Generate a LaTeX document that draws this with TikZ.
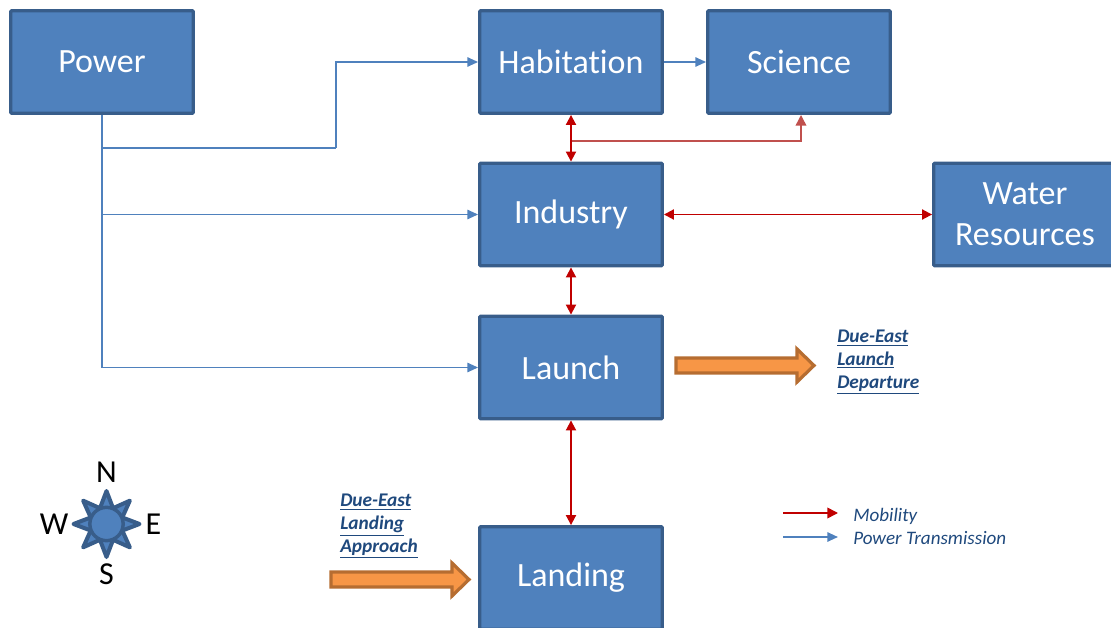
\documentclass[tikz,border=0pt]{standalone}
\usepackage{fontspec}
\setmainfont[Ligatures=NoCommon]{Carlito}
\usetikzlibrary{arrows.meta}
\definecolor{boxfill}{HTML}{4F81BD}
\definecolor{boxline}{HTML}{385D8A}
\definecolor{mobred}{HTML}{C00000}
\definecolor{softred}{HTML}{C0504D}
\definecolor{orfill}{HTML}{F79646}
\definecolor{orline}{HTML}{B66D31}
\definecolor{labelblue}{HTML}{1F497D}
\tikzset{
  x=0.75pt,y=-0.75pt,
  block/.style={draw=boxline,fill=boxfill,line width=2.4pt,rounded corners=0.8pt,minimum width=137pt,minimum height=77pt,inner sep=0pt,align=center,text=white,font=\fontsize{25.5}{31}\selectfont},
  powerline/.style={draw=boxfill,line width=1.2pt,-{Triangle[length=8pt,width=7pt]}},
  plainpower/.style={draw=boxfill,line width=1.2pt},
  mobility/.style={draw=mobred,line width=1.4pt,{Triangle[length=7.5pt,width=7.5pt]}-{Triangle[length=7.5pt,width=7.5pt]}},
  softmob/.style={draw=softred,line width=1.1pt,-{Triangle[length=8pt,width=8pt]}},
  bigarrow/.style={draw=orline,fill=orfill,line width=2.4pt,miter limit=10},
  notelabel/.style={align=left,inner sep=0pt,anchor=north west,text=labelblue,font=\fontsize{14.5}{17.2}\selectfont\bfseries\itshape},
  legendlabel/.style={inner sep=0pt,anchor=west,text=labelblue,font=\fontsize{14.3}{16}\selectfont\itshape},
  compasspoint/.style={draw=boxline,fill=boxfill,line width=3pt,line join=round},
  compassletter/.style={inner sep=0pt,text=black,font=\fontsize{24}{26}\selectfont},
}
\begin{document}
\begin{tikzpicture}
\useasboundingbox (0,0) rectangle (1111,628);
\clip (0,0) rectangle (1111,628);
% blocks (text sits a little below the box centre, hence the text raise)
\newcommand{\lowered}[1]{\raisebox{-1.5pt}{#1}}
\node[block] (power) at (102,62) {\lowered{Power}};
\node[block] (habitation) at (571,62) {\lowered{Habitation}};
\node[block] (science) at (799,62) {\lowered{Science}};
\node[block] (industry) at (571,214.5) {\lowered{Industry}};
\node[block] (water) at (1025,214.5) {\lowered{Water}\\\lowered{Resources}};
\node[block] (launch) at (571,367.5) {\lowered{Launch}};
\node[block] (landing) at (571,578) {\lowered{Landing}};
% power lines
\coordinate (branchA) at (102,148);
\coordinate (bendA) at (336,148);
\coordinate (branchB) at (102,214.5);
\draw[powerline] (power.south) |- (launch.west);
\draw[plainpower] (branchA) -- (bendA);
\draw[powerline] (bendA) |- (habitation.west);
\draw[powerline] (branchB) -- (industry.west);
\draw[powerline] (habitation.east) -- (science.west);
% mobility lines
\coordinate (branchC) at (571,141);
\coordinate (scienceEnd) at (801,115);
\draw[softmob] (branchC) -| (scienceEnd);
\draw[mobility] (habitation.south) -- (industry.north);
\draw[mobility] (industry.east) -- (water.west);
\draw[mobility] (industry.south) -- (launch.north);
\draw[mobility] (launch.south) -- (landing.north);
% big orange arrows
\draw[bigarrow] (676,358) -- (797,358) -- (797,349) -- (814,365.5) -- (797,382) -- (797,373) -- (676,373) -- cycle;
\draw[bigarrow] (331,572) -- (452,572) -- (452,563) -- (469,579.5) -- (452,596) -- (452,587) -- (331,587) -- cycle;
% notes
\node[notelabel] (depart) at (837,330) {\underline{Due-East}\\\underline{Launch}\\\underline{Departure}};
\node[notelabel] (approach) at (340,494) {\underline{Due-East}\\\underline{Landing}\\\underline{Approach}};
% legend
\coordinate (legRedA) at (783,513);
\coordinate (legRedB) at (838,513);
\coordinate (legBlueA) at (783,537);
\coordinate (legBlueB) at (838,537);
\draw[draw=mobred,line width=1.2pt,-{Triangle[length=8pt,width=8pt]}] (legRedA) -- (legRedB);
\draw[powerline,line width=1.4pt] (legBlueA) -- (legBlueB);
\node[legendlabel] (legMob) at (853,516) {Mobility};
\node[legendlabel] (legPow) at (853,538) {Power Transmission};
% compass
\foreach \a in {0,45,...,315}{
  \draw[compasspoint,shift={(106.5,524)},rotate=\a] (12,-8) -- (12,8) -- (33,0) -- cycle;
}
\node[circle,draw=boxline,fill=boxfill,line width=2.6pt,minimum size=25pt,inner sep=0pt] (hub) at (106.5,524) {};
\node[compassletter] (north) at (106.5,472) {N};
\node[compassletter] (west) at (54,524) {W};
\node[compassletter] (east) at (153.5,524) {E};
\node[compassletter] (south) at (106.5,574) {S};
\end{tikzpicture}
\end{document}
